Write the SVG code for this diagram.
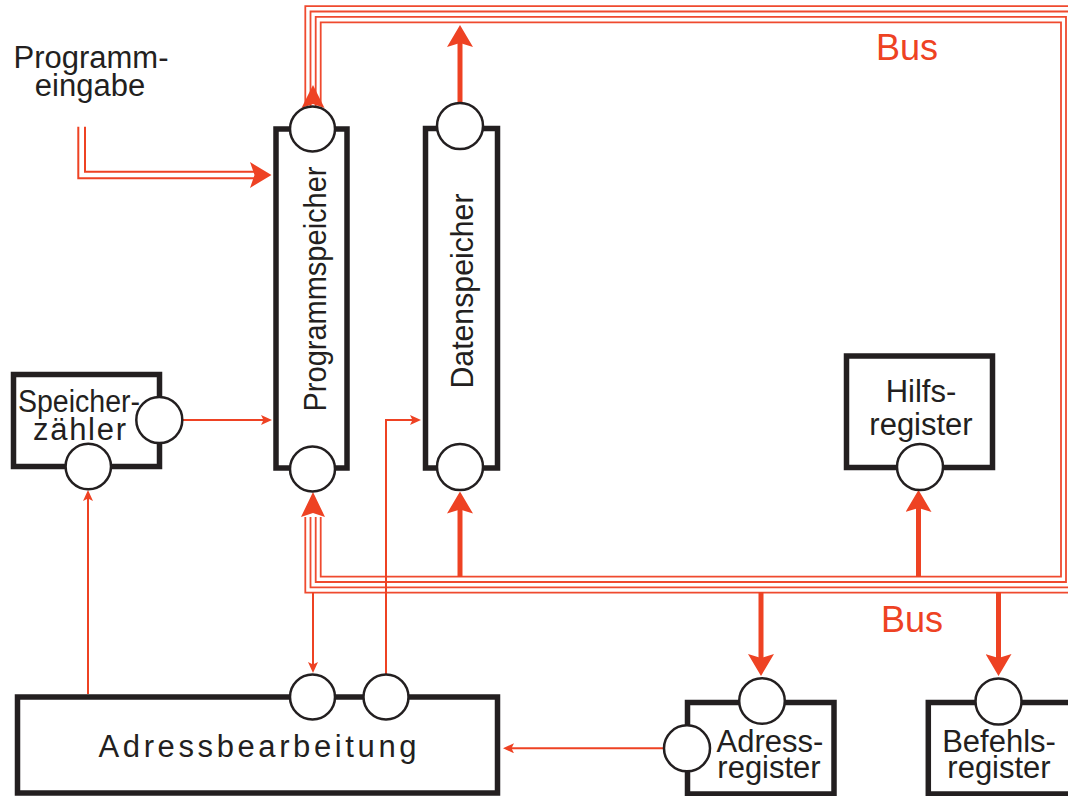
<svg xmlns="http://www.w3.org/2000/svg" width="1068" height="796" viewBox="0 0 1068 796">
  <style>
    .box { fill: #ffffff; stroke: #231f20; stroke-width: 5.5; }
    .port { fill: #ffffff; stroke: #231f20; stroke-width: 2.5; }
    .lbl { font-family: "Liberation Sans", Arial, sans-serif; fill: #231f20; font-size: 31px; }
    .bus { fill: none; stroke: #ef4a2f; stroke-width: 1.8; }
    .thin { fill: none; stroke: #ee4223; stroke-width: 2; }
    .thick { fill: none; stroke: #ee4223; stroke-width: 5; }
    .head { fill: #ee4223; }
    .buslbl { font-family: "Liberation Sans", Arial, sans-serif; fill: #ee4223; font-size: 36px; }
  </style>
  <defs>
    <marker id="bigHead" viewBox="0 0 22 26" markerWidth="22" markerHeight="26" refX="8" refY="13" orient="auto" markerUnits="userSpaceOnUse">
      <path d="M0,0 L22,13 L0,26 L4,13 Z" fill="#ee4223"/>
    </marker>
    <marker id="smallHead" viewBox="0 0 11 10" markerWidth="11" markerHeight="10" refX="8" refY="5" orient="auto" markerUnits="userSpaceOnUse">
      <path d="M0,0 L11,5 L0,10 L2.5,5 Z" fill="#ee4223"/>
    </marker>
  </defs>

  <!-- connectors -->
  <g id="connectors">
    <!-- bus: four nested lines from the program store top and bottom ports -->
    <path class="bus" d="M320.7,106 V22.3 H1061 V576.7 H320.7 V517"/>
    <path class="bus" d="M315.7,106 V16.9 H1066 V582 H315.7 V517"/>
    <path class="bus" d="M310.5,106 V11.5 H1071 V587.3 H310.5 V517"/>
    <path class="bus" d="M305.3,106 V6.1 H1076 V592.6 H305.3 V517"/>
    <path class="head" d="M313,85 L324.5,108 L313,104 L301.5,108 Z"/>
    <path class="head" d="M313,492 L325,517 L313,513 L301,517 Z"/>

    <!-- program input (double line) -->
    <path class="thin" d="M78.3,126.7 V178.3 H254" stroke-width="2.3"/>
    <path class="thin" d="M85,126.7 V171.7 H254" stroke-width="2.3"/>
    <path class="head" d="M271.5,175 L250,162 L254.5,175 L250,188 Z"/>

    <!-- thick bus taps -->
    <line class="thick" x1="460" y1="103" x2="460" y2="39" marker-end="url(#bigHead)"/>
    <line class="thick" x1="460" y1="577" x2="460" y2="505.5" marker-end="url(#bigHead)"/>
    <line class="thick" x1="918.5" y1="577" x2="918.5" y2="504" marker-end="url(#bigHead)"/>
    <line class="thick" x1="761" y1="592" x2="761" y2="662" marker-end="url(#bigHead)"/>
    <line class="thick" x1="998.5" y1="592" x2="998.5" y2="662" marker-end="url(#bigHead)"/>

    <!-- thin signal lines -->
    <line class="thin" x1="182" y1="420" x2="269" y2="420" marker-end="url(#smallHead)"/>
    <line class="thin" x1="88" y1="694" x2="88" y2="493" marker-end="url(#smallHead)"/>
    <line class="thin" x1="313" y1="592.6" x2="313" y2="670" marker-end="url(#smallHead)"/>
    <path class="thin" d="M386,674 V420 H418" marker-end="url(#smallHead)"/>
    <line class="thin" x1="664" y1="748.3" x2="506" y2="748.3" marker-end="url(#smallHead)"/>
  </g>

  <!-- Programmspeicher -->
  <g id="programmspeicher">
    <rect class="box" x="276" y="129" width="71" height="339"/>
    <circle class="port" cx="312.5" cy="129" r="22.5"/>
    <circle class="port" cx="312.5" cy="469" r="22.5"/>
    <text class="lbl" transform="translate(326,289) rotate(-90)" text-anchor="middle" font-size="30" textLength="245" lengthAdjust="spacingAndGlyphs">Programmspeicher</text>
  </g>

  <!-- Datenspeicher -->
  <g id="datenspeicher">
    <rect class="box" x="425.5" y="128.5" width="72" height="339.5"/>
    <circle class="port" cx="460" cy="126" r="23"/>
    <circle class="port" cx="460" cy="467" r="23"/>
    <text class="lbl" transform="translate(473,291) rotate(-90)" text-anchor="middle" font-size="30" textLength="195" lengthAdjust="spacingAndGlyphs">Datenspeicher</text>
  </g>

  <!-- Speicherzähler -->
  <g id="speicherzaehler">
    <rect class="box" x="13.5" y="374.5" width="146" height="92"/>
    <circle class="port" cx="159.3" cy="420" r="23"/>
    <circle class="port" cx="88.3" cy="466.5" r="22.7"/>
    <text class="lbl" font-size="28"><tspan x="18" y="411.7" textLength="122" lengthAdjust="spacingAndGlyphs">Speicher-</tspan><tspan x="33" y="440" textLength="93" lengthAdjust="spacing">zähler</tspan></text>
  </g>

  <!-- Hilfsregister -->
  <g id="hilfsregister">
    <rect class="box" x="846.5" y="356" width="146" height="111.5"/>
    <circle class="port" cx="920" cy="467" r="23"/>
    <text class="lbl" text-anchor="middle"><tspan x="921" y="401.7">Hilfs-</tspan><tspan x="921" y="435">register</tspan></text>
  </g>

  <!-- Adressbearbeitung -->
  <g id="adressbearbeitung">
    <rect class="box" x="17.5" y="697" width="480" height="96"/>
    <circle class="port" cx="312.5" cy="697" r="22.5"/>
    <circle class="port" cx="386" cy="697" r="22.5"/>
    <text class="lbl" x="98.5" y="756.7" font-size="30" textLength="318" lengthAdjust="spacing">Adressbearbeitung</text>
  </g>

  <!-- Adressregister -->
  <g id="adressregister">
    <rect class="box" x="687.5" y="702.5" width="146.5" height="91.5"/>
    <circle class="port" cx="762" cy="701" r="22.8"/>
    <circle class="port" cx="687" cy="748.3" r="23"/>
    <text class="lbl" text-anchor="middle"><tspan x="770" y="751.7">Adress-</tspan><tspan x="769" y="778.3">register</tspan></text>
  </g>

  <!-- Befehlsregister -->
  <g id="befehlsregister">
    <rect class="box" x="928.3" y="702.5" width="160" height="91.5"/>
    <circle class="port" cx="998.5" cy="701.5" r="23"/>
    <text class="lbl" text-anchor="middle"><tspan x="999" y="751.7">Befehls-</tspan><tspan x="999" y="778.3">register</tspan></text>
  </g>

  <!-- labels -->
  <g id="programmeingabe">
    <text class="lbl" text-anchor="middle"><tspan x="91" y="68.3">Programm-</tspan><tspan x="90" y="96">eingabe</tspan></text>
  </g>
  <g id="bus-labels">
    <text class="buslbl" x="876" y="60">Bus</text>
    <text class="buslbl" x="881" y="632">Bus</text>
  </g>
</svg>
